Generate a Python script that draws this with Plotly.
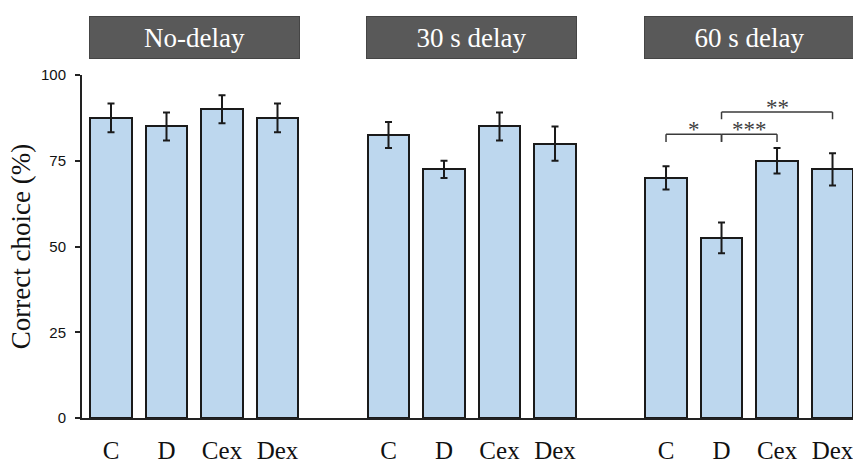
import plotly.graph_objects as go

# ---- data ----
conditions = ["No-delay", "30 s delay", "60 s delay"]
groups = ["C", "D", "Cex", "Dex"]
no_delay = [87.5, 85.0, 90.0, 87.5]
no_delay_err = [4.2, 4.1, 4.1, 4.2]
delay30 = [82.5, 72.5, 85.0, 80.0]
delay30_err = [3.8, 2.5, 4.1, 5.0]
delay60 = [70.0, 52.5, 75.0, 72.5]
delay60_err = [3.4, 4.5, 3.7, 4.7]
y_ticks = [0, 25, 50, 75, 100]
# significance comparisons within 60 s delay: (bar a, bar b, label)
comparisons_60 = [("C", "D", "*"), ("D", "Cex", "***"), ("D", "Dex", "**")]

values = [no_delay, delay30, delay60]
errors = [no_delay_err, delay30_err, delay60_err]

# ---- layout helpers ----
GAP = 5  # slots per condition block (4 bars + 1 empty)
xs, ys, es, labels = [], [], [], []
for gi, (vals, errs) in enumerate(zip(values, errors)):
    for bi, g in enumerate(groups):
        xs.append(gi * GAP + bi)
        ys.append(vals[bi])
        es.append(errs[bi])
        labels.append(g)

fig = go.Figure()
fig.add_trace(go.Bar(
    x=xs, y=ys, width=0.74,
    marker=dict(color="#BDD7EE", line=dict(color="#1a1a1a", width=2)),
    error_y=dict(type="data", array=es, visible=True, color="#1a1a1a",
                 thickness=2, width=3.5),
    showlegend=False, hoverinfo="skip",
))

SERIF = "Liberation Serif, Times New Roman, serif"
SANS = "Liberation Sans, Arial, sans-serif"

# condition header boxes
for gi, name in enumerate(conditions):
    cx = gi * GAP + (len(groups) - 1) / 2
    fig.add_annotation(
        x=cx, xref="x", y=1.109, yref="paper",
        text=name, showarrow=False,
        font=dict(family=SERIF, size=27, color="white"),
        bgcolor="#595959", bordercolor="#454545", borderwidth=1,
        borderpad=0, width=209, height=41,
        xanchor="center", yanchor="middle",
    )

# significance brackets (60 s delay block)
gi = 2
levels = [82.7, 82.7, 89.2]
drop = [2.2, 2.2, 2.1]
for (a, b, lab), lv, dr in zip(comparisons_60, levels, drop):
    xa = gi * GAP + groups.index(a)
    xb = gi * GAP + groups.index(b)
    for sx0, sy0, sx1, sy1 in [(xa, lv, xb, lv), (xa, lv - dr, xa, lv), (xb, lv - dr, xb, lv)]:
        fig.add_shape(type="line", x0=sx0, y0=sy0, x1=sx1, y1=sy1,
                      xref="x", yref="y",
                      line=dict(color="#3a3a3a", width=1.5))
    fig.add_annotation(
        x=(xa + xb) / 2, y=lv, xref="x", yref="y",
        text=lab, showarrow=False, yanchor="bottom", yshift=-10,
        font=dict(family=SERIF, size=23, color="#404040"),
    )

fig.update_layout(
    width=853, height=464,
    margin=dict(l=82, r=0, t=75, b=46),
    plot_bgcolor="white", paper_bgcolor="white",
    bargap=0,
    xaxis=dict(
        range=[-0.5225, 13.369],
        tickmode="array", tickvals=xs, ticktext=labels,
        tickfont=dict(family=SERIF, size=25, color="#111"),
        showline=True, linecolor="#222", linewidth=2,
        ticks="", showgrid=False, zeroline=False,
        ticklabelstandoff=9, ticklabeloverflow="allow",
        automargin=False,
    ),
    yaxis=dict(
        range=[0, 100],
        tickmode="array", tickvals=y_ticks,
        tickfont=dict(family=SANS, size=15, color="#111"),
        showline=True, linecolor="#222", linewidth=2,
        ticks="outside", ticklen=5, tickwidth=1.5, tickcolor="#222",
        ticklabelstandoff=6,
        showgrid=False, zeroline=False, automargin=False,
        title=dict(text="Correct choice (%)",
                   font=dict(family=SERIF, size=27, color="#111"),
                   standoff=3),
    ),
)

fig.write_html(
    "out.html",
    config={"displayModeBar": False},
    post_script="document.body.style.margin='0';document.body.style.overflow='hidden';",
)
